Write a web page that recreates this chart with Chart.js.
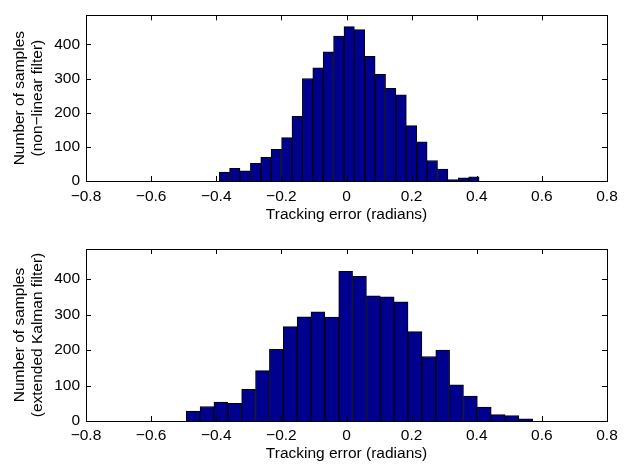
<!DOCTYPE html>
<html><head><meta charset="utf-8">
<script src="https://cdn.jsdelivr.net/npm/chart.js@4"></script>
<style>
html,body{margin:0;padding:0;background:#fff;}
#wrap{position:relative;width:626px;height:464px;overflow:hidden;background:#fff;}
.box{position:absolute;left:0;width:626px;}
</style></head><body>
<div id="wrap">
<div class="box" style="top:0;height:232px"><canvas id="c1"></canvas></div>
<div class="box" style="top:232px;height:232px"><canvas id="c2"></canvas></div>
</div>
<script>
const xTickValues = [-0.8, -0.6, -0.4, -0.2, 0, 0.2, 0.4, 0.6, 0.8];
const xTickLabels = ['−0.8', '−0.6', '−0.4', '−0.2', '0', '0.2', '0.4', '0.6', '0.8'];
const yTickValues = [0, 100, 200, 300, 400];
const yTickLabels = ['0', '100', '200', '300', '400'];
const xAxisTitle = 'Tracking error (radians)';
const topYTitle = ['Number of samples', '(non−linear filter)'];
const bottomYTitle = ['Number of samples', '(extended Kalman filter)'];

const topBinCenters = [-0.3750, -0.3431, -0.3112, -0.2792, -0.2473, -0.2154, -0.1834, -0.1515, -0.1196, -0.0876,
  -0.0557, -0.0238, 0.0082, 0.0401, 0.0720, 0.1040, 0.1359, 0.1678, 0.1997, 0.2317, 0.2636, 0.2955, 0.3275, 0.3594, 0.3913];
const topCounts = [26, 37, 30, 52, 69, 93, 127, 189, 300, 331, 378, 424, 452, 443, 365, 312, 271, 252, 162, 115, 60, 35, 4, 9, 12];

const bottomBinCenters = [-0.4710, -0.4284, -0.3858, -0.3433, -0.3007, -0.2581, -0.2155, -0.1729, -0.1304, -0.0878,
  -0.0452, -0.0026, 0.0400, 0.0825, 0.1251, 0.1677, 0.2103, 0.2529, 0.2954, 0.3380, 0.3806, 0.4232, 0.4658, 0.5083, 0.5509];
const bottomCounts = [28, 41, 53, 50, 89, 142, 202, 266, 294, 308, 293, 422, 408, 353, 350, 336, 252, 182, 200, 102, 70, 39, 18, 15, 6];

const FONT = 'Liberation Sans, Arial, Helvetica, sans-serif';

const framePlugin = {
  id: 'frame',
  afterDatasetsDraw(chart) {
    const {ctx, chartArea: a, scales: {x, y}} = chart;
    const L = 5;
    ctx.save();
    ctx.strokeStyle = '#000';
    ctx.lineWidth = 1;
    ctx.beginPath();
    x.ticks.forEach(t => {
      const px = Math.round(x.getPixelForValue(t.value)) + 0.5;
      ctx.moveTo(px, a.bottom); ctx.lineTo(px, a.bottom - L);
      ctx.moveTo(px, a.top); ctx.lineTo(px, a.top + L);
    });
    y.ticks.forEach(t => {
      const py = Math.round(y.getPixelForValue(t.value)) + 0.5;
      ctx.moveTo(a.left, py); ctx.lineTo(a.left + L, py);
      ctx.moveTo(a.right, py); ctx.lineTo(a.right - L, py);
    });
    ctx.stroke();
    ctx.strokeRect(Math.round(a.left) + 0.5, Math.round(a.top) + 0.5,
      Math.round(a.right - a.left), Math.round(a.bottom - a.top));
    ctx.restore();
  }
};

function makeChart(id, centers, counts, yTitle, g) {
  const font = {family: FONT, size: 15.5, lineHeight: 1.2};
  const tfont = {family: FONT, size: 15.5, lineHeight: 1.16};
  return new Chart(document.getElementById(id), {
    type: 'bar',
    data: {
      datasets: [{
        data: centers.map((c, i) => ({x: c, y: counts[i]})),
        backgroundColor: '#00008F',
        borderColor: '#000',
        borderWidth: 1,
        barPercentage: 1,
        categoryPercentage: 1
      }]
    },
    options: {
      responsive: true,
      maintainAspectRatio: false,
      animation: false,
      layout: {padding: {top: g.top, right: g.right, left: 0, bottom: 0}},
      plugins: {legend: {display: false}, tooltip: {enabled: false}},
      scales: {
        x: {
          type: 'linear', min: -0.8, max: 0.8, offset: false,
          afterBuildTicks: s => { s.ticks = xTickValues.map(v => ({value: v})); },
          afterFit: s => { s.height = g.xh; },
          grid: {display: false, drawTicks: false, tickLength: 0, offset: false},
          border: {display: false},
          ticks: {callback: (v, i) => xTickLabels[i], autoSkip: false, maxRotation: 0, minRotation: 0,
                  padding: g.xpad, color: '#000', font: font},
          title: {display: true, text: xAxisTitle, color: '#000', font: font, padding: {top: 0, bottom: g.xtb}}
        },
        y: {
          min: 0, max: 485,
          afterBuildTicks: s => { s.ticks = yTickValues.map(v => ({value: v})); },
          afterFit: s => { s.width = 86; },
          grid: {display: false, drawTicks: false, tickLength: 0},
          border: {display: false},
          ticks: {callback: (v, i) => yTickLabels[i], padding: 6, color: '#000', font: font},
          title: {display: true, text: yTitle, color: '#000', font: tfont, padding: {top: 11, bottom: 0}}
        }
      }
    },
    plugins: [framePlugin]
  });
}

makeChart('c1', topBinCenters, topCounts, topYTitle, {top: 9, right: 19, xh: 51, xpad: 6, xtb: 8});
makeChart('c2', bottomBinCenters, bottomCounts, bottomYTitle, {top: 17, right: 19, xh: 43, xpad: 5, xtb: 1});
</script>
</body></html>
